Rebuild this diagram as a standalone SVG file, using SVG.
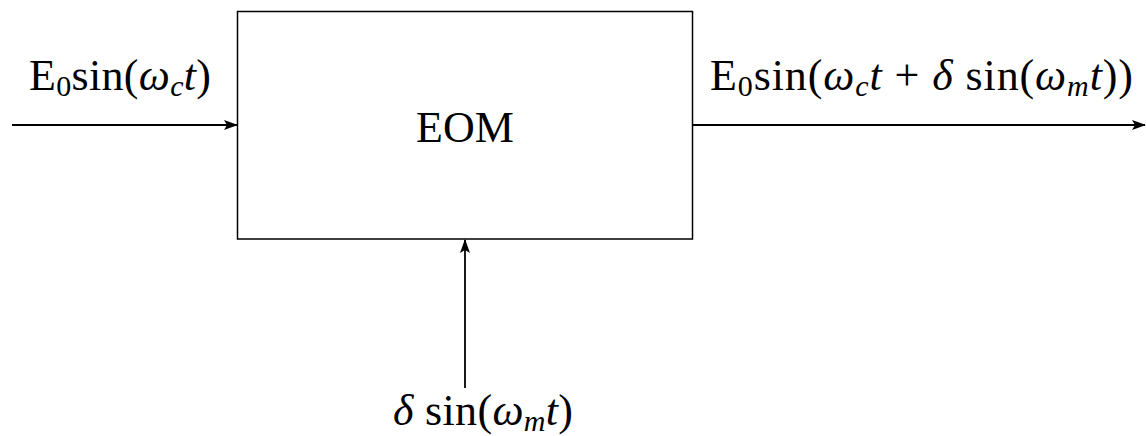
<svg xmlns="http://www.w3.org/2000/svg" width="1146" height="436" viewBox="0 0 1146 436">
<style>
.t{font-family:"Liberation Serif","DejaVu Serif",serif;font-size:44px;fill:#000}
.i{font-style:italic}
.line{stroke:#000;stroke-width:1.8;fill:none}
</style>
<defs>
<marker id="ah" markerUnits="userSpaceOnUse" markerWidth="14" markerHeight="10" refX="13" refY="5" orient="auto">
<path d="M0,0 L14,5 L0,10 L3,5 Z" fill="#000"/>
</marker>
</defs>
<rect width="1146" height="436" fill="#fff"/>
<g id="eom">
<rect x="237.5" y="11.5" width="455" height="227.5" fill="#fff" stroke="#000" stroke-width="1.5"/>
<text class="t" x="465" y="142" text-anchor="middle">EOM</text>
</g>
<g id="connectors">
<line class="line" x1="12" y1="125" x2="237" y2="125" marker-end="url(#ah)"/>
<line class="line" x1="693" y1="125" x2="1145" y2="125" marker-end="url(#ah)"/>
<line class="line" x1="465" y1="388" x2="465" y2="240" marker-end="url(#ah)"/>
</g>
<g id="label-in">
<text class="t" x="29" y="90" textLength="182" lengthAdjust="spacing">E<tspan font-size="30" dy="6">0</tspan><tspan dy="-6">sin(</tspan><tspan class="i">ω</tspan><tspan class="i" font-size="30" dy="6">c</tspan><tspan class="i" dy="-6">t</tspan>)</text>
</g>
<g id="label-out">
<text class="t" x="710" y="90" textLength="423" lengthAdjust="spacing">E<tspan font-size="30" dy="6">0</tspan><tspan dy="-6">sin(</tspan><tspan class="i">ω</tspan><tspan class="i" font-size="30" dy="6">c</tspan><tspan class="i" dy="-6">t</tspan> + <tspan class="i">δ</tspan> sin(<tspan class="i">ω</tspan><tspan class="i" font-size="30" dy="6">m</tspan><tspan class="i" dy="-6">t</tspan>))</text>
</g>
<g id="label-mod">
<text class="t" x="393" y="425" textLength="180" lengthAdjust="spacing"><tspan class="i">δ</tspan> sin(<tspan class="i">ω</tspan><tspan class="i" font-size="30" dy="6">m</tspan><tspan class="i" dy="-6">t</tspan>)</text>
</g>
</svg>
